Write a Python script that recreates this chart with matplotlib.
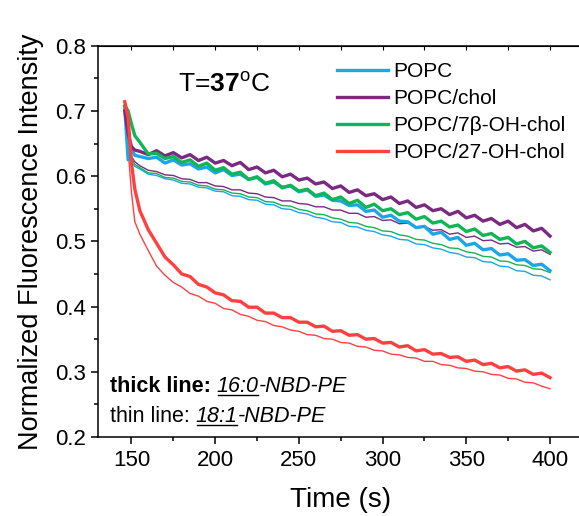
import matplotlib.pyplot as plt
from matplotlib.lines import Line2D
from matplotlib.ticker import MultipleLocator

plt.rcParams['font.family'] = ['Liberation Sans', 'DejaVu Sans']
plt.rcParams['mathtext.fontset'] = 'custom'
plt.rcParams['mathtext.rm'] = 'Liberation Sans'
plt.rcParams['mathtext.bf'] = 'Liberation Sans:bold'
plt.rcParams['mathtext.it'] = 'Liberation Sans:italic'

# time axis (s)
time = [146, 148, 150, 152] + list(range(155, 405, 5))

# 16:0-NBD-PE (thick lines)
thick_popc = [0.705, 0.625, 0.640, 0.632, 0.630, 0.627, 0.629, 0.620, 0.625, 0.617, 0.619, 0.611, 0.614, 0.605,
              0.610, 0.601, 0.603, 0.595, 0.598, 0.588, 0.591, 0.583, 0.585, 0.576, 0.579, 0.569, 0.571, 0.563,
              0.562, 0.555, 0.556, 0.546, 0.548, 0.537, 0.540, 0.531, 0.530, 0.521, 0.523, 0.511, 0.514, 0.503,
              0.506, 0.494, 0.497, 0.487, 0.489, 0.479, 0.481, 0.471, 0.472, 0.463, 0.465, 0.455]
thick_chol = [0.700, 0.665, 0.645, 0.640, 0.638, 0.633, 0.639, 0.631, 0.636, 0.628, 0.633, 0.624, 0.629, 0.620,
              0.624, 0.616, 0.621, 0.610, 0.614, 0.605, 0.609, 0.599, 0.603, 0.594, 0.597, 0.588, 0.591, 0.581,
              0.585, 0.575, 0.579, 0.570, 0.573, 0.564, 0.568, 0.558, 0.562, 0.552, 0.556, 0.547, 0.550, 0.541,
              0.546, 0.536, 0.540, 0.531, 0.535, 0.526, 0.531, 0.521, 0.526, 0.516, 0.520, 0.508]
thick_7b = [0.708, 0.700, 0.680, 0.662, 0.652, 0.634, 0.635, 0.627, 0.630, 0.621, 0.625, 0.615, 0.620, 0.609,
            0.613, 0.603, 0.606, 0.595, 0.599, 0.589, 0.593, 0.582, 0.586, 0.577, 0.580, 0.570, 0.574, 0.564,
            0.568, 0.558, 0.563, 0.552, 0.557, 0.547, 0.550, 0.541, 0.544, 0.534, 0.538, 0.528, 0.531, 0.522,
            0.525, 0.515, 0.519, 0.509, 0.512, 0.503, 0.506, 0.496, 0.500, 0.490, 0.493, 0.483]
thick_27 = [0.714, 0.690, 0.620, 0.580, 0.547, 0.518, 0.497, 0.476, 0.464, 0.450, 0.446, 0.434, 0.430, 0.421,
            0.418, 0.409, 0.408, 0.399, 0.399, 0.390, 0.390, 0.383, 0.383, 0.376, 0.376, 0.369, 0.370, 0.362,
            0.363, 0.356, 0.357, 0.350, 0.351, 0.344, 0.345, 0.338, 0.340, 0.332, 0.334, 0.327, 0.328, 0.322,
            0.323, 0.316, 0.318, 0.311, 0.313, 0.306, 0.308, 0.301, 0.303, 0.296, 0.298, 0.291]

# 18:1-NBD-PE (thin lines)
thin_popc = [0.700, 0.640, 0.622, 0.615, 0.611, 0.603, 0.601, 0.596, 0.594, 0.589, 0.588, 0.583, 0.582, 0.577,
             0.576, 0.570, 0.569, 0.564, 0.563, 0.557, 0.556, 0.550, 0.549, 0.544, 0.542, 0.537, 0.535, 0.530,
             0.529, 0.523, 0.522, 0.517, 0.515, 0.510, 0.508, 0.503, 0.502, 0.496, 0.495, 0.490, 0.488, 0.483,
             0.481, 0.476, 0.475, 0.469, 0.468, 0.462, 0.461, 0.455, 0.454, 0.448, 0.447, 0.441]
thin_chol = [0.700, 0.650, 0.630, 0.622, 0.616, 0.609, 0.607, 0.602, 0.601, 0.596, 0.595, 0.590, 0.590, 0.585,
             0.584, 0.579, 0.579, 0.574, 0.573, 0.568, 0.567, 0.562, 0.562, 0.558, 0.557, 0.553, 0.553, 0.548,
             0.548, 0.543, 0.543, 0.537, 0.538, 0.532, 0.533, 0.527, 0.528, 0.522, 0.523, 0.517, 0.518, 0.511,
             0.513, 0.506, 0.508, 0.501, 0.502, 0.496, 0.497, 0.491, 0.492, 0.485, 0.487, 0.480]
thin_7b = [0.705, 0.650, 0.628, 0.618, 0.613, 0.605, 0.604, 0.598, 0.597, 0.592, 0.591, 0.586, 0.585, 0.580,
           0.579, 0.574, 0.573, 0.568, 0.567, 0.561, 0.560, 0.555, 0.554, 0.549, 0.547, 0.542, 0.541, 0.536,
           0.534, 0.529, 0.528, 0.523, 0.521, 0.516, 0.515, 0.510, 0.508, 0.503, 0.502, 0.497, 0.495, 0.490,
           0.489, 0.484, 0.482, 0.477, 0.476, 0.470, 0.469, 0.464, 0.463, 0.458, 0.457, 0.452]
thin_27 = [0.712, 0.640, 0.575, 0.530, 0.511, 0.486, 0.462, 0.448, 0.437, 0.430, 0.420, 0.416, 0.408, 0.405,
           0.397, 0.395, 0.388, 0.385, 0.379, 0.377, 0.371, 0.369, 0.364, 0.362, 0.357, 0.356, 0.351, 0.350,
           0.345, 0.344, 0.339, 0.338, 0.333, 0.332, 0.327, 0.326, 0.322, 0.321, 0.316, 0.316, 0.311, 0.310,
           0.306, 0.305, 0.301, 0.300, 0.296, 0.295, 0.290, 0.289, 0.284, 0.283, 0.278, 0.274]

labels = ['POPC', 'POPC/chol', 'POPC/7β-OH-chol', 'POPC/27-OH-chol']
colors = ['#1aa7e8', '#7a2a80', '#10b655', '#ff4040']
thick = [thick_popc, thick_chol, thick_7b, thick_27]
thin = [thin_popc, thin_chol, thin_7b, thin_27]

fig = plt.figure(figsize=(5.79, 5.16), dpi=100)
ax = fig.add_axes([98 / 579, 1 - 437 / 516, 485.5 / 579, 391.3 / 516])

for y, c in zip(thin, colors):
    ax.plot(time, y, color=c, lw=1.0)
for y, c, lab in zip(thick, colors, labels):
    ax.plot(time, y, color=c, lw=2.4, label=lab)

ax.set_xlim(130, 420)
ax.set_ylim(0.2, 0.8)
ax.xaxis.set_major_locator(MultipleLocator(50))
ax.xaxis.set_minor_locator(MultipleLocator(25))
ax.yaxis.set_major_locator(MultipleLocator(0.1))
ax.yaxis.set_minor_locator(MultipleLocator(0.05))
ax.tick_params(which='both', direction='out', width=1.1, labelsize=16, pad=4)
ax.tick_params(which='major', length=5)
ax.tick_params(which='minor', length=3)
ax.spines['right'].set_visible(False)
for s in ['left', 'bottom', 'top']:
    ax.spines[s].set_linewidth(1.1)

top = ax.secondary_xaxis('top')
top.xaxis.set_major_locator(MultipleLocator(25))
top.tick_params(direction='in', length=3, width=0.8, labeltop=False)

ax.set_xlabel('Time (s)', fontsize=20, labelpad=12)
ax.set_ylabel('Normalized Fluorescence Intensity', fontsize=19.5, labelpad=8)

ax.legend(loc='upper left', bbox_to_anchor=(337 / 579, 1 - 62 / 516), bbox_transform=fig.transFigure,
          frameon=False, fontsize=15, handlelength=2.45, handletextpad=0.25, labelspacing=0.39,
          borderpad=0, borderaxespad=0)

ax.text(178 / 579, 1 - 92 / 516, r'T=$\mathbf{37}^{\mathrm{o}}$C', transform=fig.transFigure,
        fontsize=19, va='baseline')

# bottom-left note
fs = 15.5
t1 = ax.text(0.025, 0.115, 'thick line:', transform=ax.transAxes, fontsize=fs, fontweight='bold')
t2 = ax.annotate('16:0', xy=(1, 0), xycoords=t1, xytext=(4, 0), textcoords='offset points',
                 fontsize=fs, style='italic', va='bottom')
t3 = ax.annotate('-NBD-PE', xy=(1, 0), xycoords=t2, fontsize=fs, style='italic', va='bottom')
t4 = ax.text(0.025, 0.038, 'thin line:', transform=ax.transAxes, fontsize=fs)
t5 = ax.annotate('18:1', xy=(1, 0), xycoords=t4, xytext=(4, 0), textcoords='offset points',
                 fontsize=fs, style='italic', va='bottom')
t6 = ax.annotate('-NBD-PE', xy=(1, 0), xycoords=t5, fontsize=fs, style='italic', va='bottom')

fig.canvas.draw()
inv = fig.transFigure.inverted()
for t in [t2, t5]:
    bb = t.get_window_extent()
    (x0, y0), (x1, _) = inv.transform([(bb.x0 + 1, bb.y0 + 2.5), (bb.x1 - 1, bb.y0 + 2.5)])
    fig.add_artist(Line2D([x0, x1], [y0, y0], transform=fig.transFigure, color='black', lw=1.0))

fig.savefig('out.png', dpi=100)
